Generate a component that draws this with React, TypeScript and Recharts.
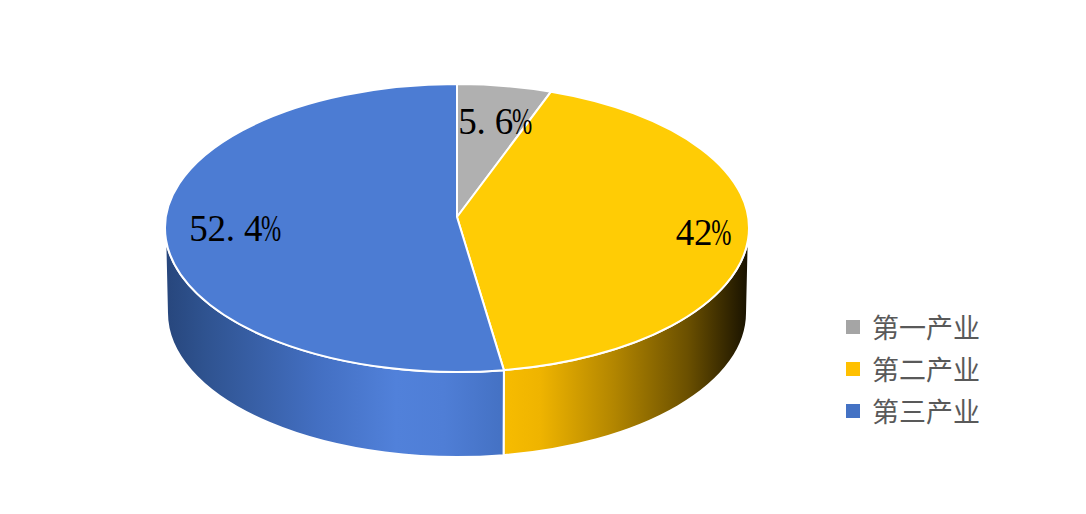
import { PieChart, Pie, Legend } from 'recharts';

const categories = ['第一产业', '第二产业', '第三产业'];
const shares = [5.6, 42, 52.4];
const shareLabels = ['5.6', '42', '52.4'];

const TOP_COLORS = ['#b0b0b0', '#ffcc05', '#4c7cd3'];
const LEGEND_COLORS = ['#a5a5a5', '#ffc000', '#4472c4'];
const WALL_COLORS = ['#a5a5a5', 'url(#wallYellow)', 'url(#wallBlue)'];

const CX = 457;
const CY = 228;
const RX = 292;
const RY_RATIO = 144 / 292;
const DEPTH = 85;
const LABEL_RADIUS = [0.7, 0.84, 0.77];

const topData = categories.map((name, i) => ({ name, value: shares[i], fill: TOP_COLORS[i] }));
const wallData = categories.map((name, i) => ({ name, value: shares[i], fill: WALL_COLORS[i] }));

const point = (cx: number, cy: number, rx: number, ry: number, deg: number) => {
  const a = (deg * Math.PI) / 180;
  return [cx + rx * Math.cos(a), cy - ry * Math.sin(a)];
};

// the tilted pie in the picture has slightly shifted edges, this mimics the perspective
const tilt = (deg: number) => deg + 4 * Math.cos((deg * Math.PI) / 180);

// flat recharts sector squashed into an ellipse, apex sits a bit above centre
function TopFace(props: any) {
  const { cx, cy, outerRadius, startAngle, endAngle, fill } = props;
  const ry = outerRadius * RY_RATIO;
  const [x1, y1] = point(cx, cy, outerRadius, ry, tilt(startAngle));
  const [x2, y2] = point(cx, cy, outerRadius, ry, tilt(endAngle));
  const large = Math.abs(startAngle - endAngle) > 180 ? 1 : 0;
  const d = `M${cx},${cy - 11} L${x1},${y1} A${outerRadius},${ry} 0 ${large} 1 ${x2},${y2} Z`;
  return <path d={d} fill={fill} stroke="#fff" strokeWidth={2} strokeLinejoin="round" />;
}

function WallFace(props: any) {
  const { cx, cy, outerRadius, startAngle, endAngle, fill } = props;
  const hi = Math.min(tilt(startAngle), 0);
  const lo = Math.max(tilt(endAngle), -180);
  if (hi <= lo) return <g />;
  const ry = outerRadius * RY_RATIO;
  const rxB = outerRadius - 2;
  const [x1, y1] = point(cx, cy, outerRadius, ry, hi);
  const [x2, y2] = point(cx, cy, outerRadius, ry, lo);
  const [x3, y3] = point(cx, cy + DEPTH, rxB, ry, lo);
  const [x4, y4] = point(cx, cy + DEPTH, rxB, ry, hi);
  const d = `M${x1},${y1} A${outerRadius},${ry} 0 0 1 ${x2},${y2} L${x3},${y3} A${rxB},${ry} 0 0 0 ${x4},${y4} Z`;
  return <path d={d} fill={fill} stroke="#fff" strokeWidth={2} strokeLinejoin="round" />;
}

function ShareLabel(props: any) {
  const { cx, outerRadius, midAngle, index } = props;
  const ry = outerRadius * RY_RATIO;
  const k = LABEL_RADIUS[index];
  const [x, y] = point(cx, 221, outerRadius * k, ry * k, midAngle);
  const text = shareLabels[index];
  const cell = 18.2;
  const left = x - ((text.length + 1) * cell) / 2 + 2;
  const xs = text.split('').map((_, i) => left + i * cell).join(' ');
  return (
    <text y={y + 12} fill="#000" style={{ fontSize: 37, fontFamily: '"Liberation Serif"' }}>
      <tspan x={xs}>{text}</tspan>
      <tspan x={left + text.length * cell - 1} textLength={cell + 2} lengthAdjust="spacingAndGlyphs">
        %
      </tspan>
    </text>
  );
}

function LegendBox() {
  return (
    <div style={{ position: 'absolute', left: 846, top: 306 }}>
      {categories.map((name, i) => (
        <div key={name} style={{ display: 'flex', alignItems: 'center', height: 42 }}>
          <span style={{ width: 14, height: 14, background: LEGEND_COLORS[i], marginRight: 12 }} />
          <span
            style={{
              color: '#595959',
              fontSize: 27,
              lineHeight: '42px',
              fontFamily: "'Noto Sans CJK SC', sans-serif",
              whiteSpace: 'nowrap',
            }}
          >
            {name}
          </span>
        </div>
      ))}
    </div>
  );
}

export default function App() {
  return (
    <div style={{ position: 'absolute', left: 0, top: 0, width: 1086, height: 514, background: '#fff' }}>
      <PieChart width={1086} height={514} margin={{ top: 0, right: 0, bottom: 0, left: 0 }}>
        <defs>
          <linearGradient id="wallBlue" gradientUnits="userSpaceOnUse" x1={165} y1={0} x2={505} y2={0}>
            <stop offset="0%" stopColor="#27467c" />
            <stop offset="12%" stopColor="#2f5390" />
            <stop offset="45%" stopColor="#436fc2" />
            <stop offset="68%" stopColor="#5181da" />
            <stop offset="82%" stopColor="#4f7ed6" />
            <stop offset="100%" stopColor="#4471c3" />
          </linearGradient>
          <linearGradient id="wallYellow" gradientUnits="userSpaceOnUse" x1={503} y1={0} x2={749} y2={0}>
            <stop offset="0%" stopColor="#f7bc00" />
            <stop offset="15%" stopColor="#efb400" />
            <stop offset="45%" stopColor="#b38600" />
            <stop offset="75%" stopColor="#6b5000" />
            <stop offset="100%" stopColor="#171100" />
          </linearGradient>
        </defs>
        <Pie
          data={wallData}
          dataKey="value"
          nameKey="name"
          cx={CX}
          cy={CY}
          outerRadius={RX}
          startAngle={90}
          endAngle={-270}
          paddingAngle={0}
          shape={WallFace}
          activeShape={WallFace}
          inactiveShape={WallFace}
          legendType="none"
          isAnimationActive={false}
        />
        <Pie
          data={topData}
          dataKey="value"
          nameKey="name"
          cx={CX}
          cy={CY}
          outerRadius={RX}
          startAngle={90}
          endAngle={-270}
          paddingAngle={0}
          shape={TopFace}
          activeShape={TopFace}
          inactiveShape={TopFace}
          label={ShareLabel}
          labelLine={false}
          isAnimationActive={false}
        />
        <Legend content={() => <LegendBox />} wrapperStyle={{ position: 'absolute', left: 0, top: 0, width: 0 }} />
      </PieChart>
    </div>
  );
}
